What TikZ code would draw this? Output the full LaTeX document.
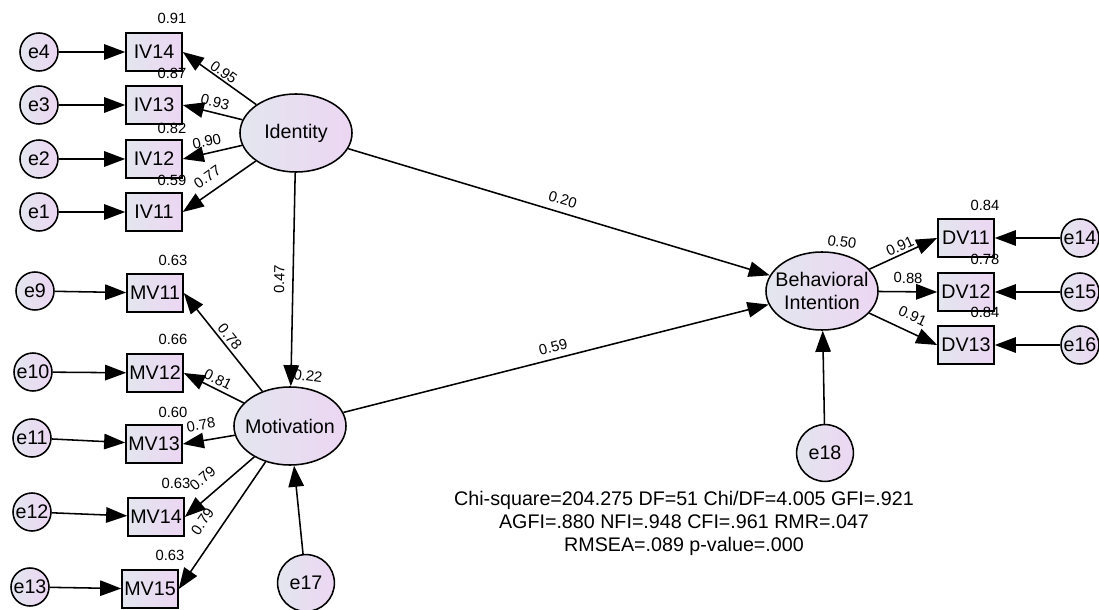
\documentclass[tikz,border=0pt]{standalone}
\usepackage{fontspec}
\setmainfont{Liberation Sans}
\usetikzlibrary{arrows.meta,shapes.geometric}
\definecolor{fondg}{HTML}{E3E6EF}
\definecolor{fondd}{HTML}{ECD6F2}

\begin{document}
\begin{tikzpicture}[x=0.025cm, y=-0.025cm,
		obs/.style={rectangle, draw, line width=1.1pt, left color=fondg, right color=fondd,
			minimum width=1.4cm, minimum height=0.95cm, inner sep=0pt, font=\fontsize{14}{16}\selectfont},
		err/.style={circle, draw, line width=1.1pt, left color=fondg, right color=fondd,
			minimum size=0.95cm, inner sep=0pt, font=\fontsize{14}{16}\selectfont},
		errgros/.style={err, minimum size=1.42cm},
		latent/.style={ellipse, draw, line width=1.1pt, left color=fondg, right color=fondd,
			minimum width=2.8cm, minimum height=1.95cm, inner sep=0pt},
		nom/.style={font=\fontsize{14}{16.3}\selectfont, align=center},
		fleche/.style={line width=1.1pt, -{Triangle[length=15pt,width=11pt]}},
		coef/.style={font=\fontsize{10.5}{12}\selectfont, sloped, inner sep=1pt},
		rsq/.style={font=\fontsize{10.5}{12}\selectfont, inner sep=1pt}]
			
			\useasboundingbox (0,0) rectangle (1099,610);
			
			% Variables latentes
			\node[latent, label={[nom]center:Identity}] (Id) at (296,133) {};
			\node[latent, label={[nom]center:Motivation}] (Mot) at (290,426) {};
			\node[latent, label={[nom]center:Behavioral\\Intention}] (BI) at (822,291) {};
			
			% Indicateurs de Identity
			\node[obs] (IV14) at (154,52) {IV14};
			\node[obs] (IV13) at (154,105) {IV13};
			\node[obs] (IV12) at (154,159) {IV12};
			\node[obs] (IV11) at (154,212) {IV11};
			
			% Indicateurs de Motivation
			\node[obs] (MV11) at (155,293) {MV11};
			\node[obs] (MV12) at (155,373) {MV12};
			\node[obs] (MV13) at (154,444) {MV13};
			\node[obs] (MV14) at (156,517) {MV14};
			\node[obs] (MV15) at (150,589) {MV15};
			
			% Indicateurs de Behavioral Intention
			\node[obs] (DV11) at (966,238) {DV11};
			\node[obs] (DV12) at (966,292) {DV12};
			\node[obs] (DV13) at (966,345) {DV13};
			
			% Erreurs
			\node[err] (e4) at (39,52) {e4};
			\node[err] (e3) at (39,105) {e3};
			\node[err] (e2) at (39,159) {e2};
			\node[err] (e1) at (39,212) {e1};
			\node[err] (e9) at (35,291) {e9};
			\node[err] (e10) at (33,372) {e10};
			\node[err] (e11) at (32,438) {e11};
			\node[err] (e12) at (32,512) {e12};
			\node[err] (e13) at (30,587) {e13};
			\node[err] (e14) at (1080,238) {e14};
			\node[err] (e15) at (1080,292) {e15};
			\node[err] (e16) at (1080,345) {e16};
			\node[errgros] (e17) at (306,583) {e17};
			\node[errgros] (e18) at (825,453) {e18};
			
			% R carres
			\node[rsq] (r14) at (172,18) {0.91};
			\node[rsq] (r13) at (172,73) {0.87};
			\node[rsq] (r12) at (172,128) {0.82};
			\node[rsq] (r11) at (172,180) {0.59};
			\node[rsq] (m11) at (173,260) {0.63};
			\node[rsq] (m12) at (173,339) {0.66};
			\node[rsq] (m13) at (173,412) {0.60};
			\node[rsq] (m14) at (176,483) {0.63};
			\node[rsq] (m15) at (170,555) {0.63};
			\node[rsq] (d11) at (985,205) {0.84};
			\node[rsq] (d12) at (985,259) {0.78};
			\node[rsq] (d13) at (985,312) {0.84};
			\node[rsq, rotate=-8] (rMot) at (308,376) {0.22};
			\node[rsq, rotate=-8] (rBI) at (842,242) {0.50};
			
			% Erreurs vers indicateurs
			\draw[fleche] (e4) -- (IV14);
			\draw[fleche] (e3) -- (IV13);
			\draw[fleche] (e2) -- (IV12);
			\draw[fleche] (e1) -- (IV11);
			\draw[fleche] (e9) -- (MV11);
			\draw[fleche] (e10) -- (MV12);
			\draw[fleche] (e11) -- (MV13);
			\draw[fleche] (e12) -- (MV14);
			\draw[fleche] (e13) -- (MV15);
			\draw[fleche] (e14) -- (DV11);
			\draw[fleche] (e15) -- (DV12);
			\draw[fleche] (e16) -- (DV13);
			\draw[fleche] (e17) -- (Mot);
			\draw[fleche] (e18) -- (BI);
			
			% Saturations
			\draw[fleche] (Id) -- node[coef, above=0pt] {0.95} (IV14.east);
			\draw[fleche] (Id) -- node[coef, above=2pt] {0.93} (IV13.east);
			\draw[fleche] (Id) -- node[coef, pos=0.55, above=3pt] {0.90} (IV12.east);
			\draw[fleche] (Id) -- node[coef, pos=0.55, above=5pt] {0.77} (IV11.east);
			\draw[fleche] (Mot) -- node[coef, above=1pt] {0.78} (MV11.east);
			\draw[fleche] (Mot) -- node[coef, above=1.5pt] {0.81} (MV12.east);
			\draw[fleche] (Mot) -- node[coef, pos=0.6, above=6pt] {0.78} (MV13.east);
			\draw[fleche] (Mot) -- node[coef, pos=0.58, above=7pt] {0.79} (MV14.east);
			\draw[fleche] (Mot) -- node[coef, pos=0.55, above=8pt] {0.79} (MV15.east);
			\draw[fleche] (BI) -- node[coef, above=0.5pt] {0.91} (DV11.west);
			\draw[fleche] (BI) -- node[coef, above=4.5pt] {0.88} (DV12.west);
			\draw[fleche] (BI) -- node[coef, pos=0.54, above=6pt] {0.91} (DV13.west);
			
			% Chemins structurels
			\draw[fleche] (Id) -- node[coef, above=4.5pt] {0.47} (Mot);
			\draw[fleche] (Id) -- node[coef, above=4pt] {0.20} (BI);
			\draw[fleche] (Mot) -- node[coef, above=3pt] {0.59} (BI);
			
			% Indices d'ajustement
			\node[nom] (ajust) at (684,523) {Chi-square=204.275 DF=51 Chi/DF=4.005 GFI=.921\\AGFI=.880 NFI=.948 CFI=.961 RMR=.047\\RMSEA=.089 p-value=.000};
			
		\end{tikzpicture}
\end{document}
